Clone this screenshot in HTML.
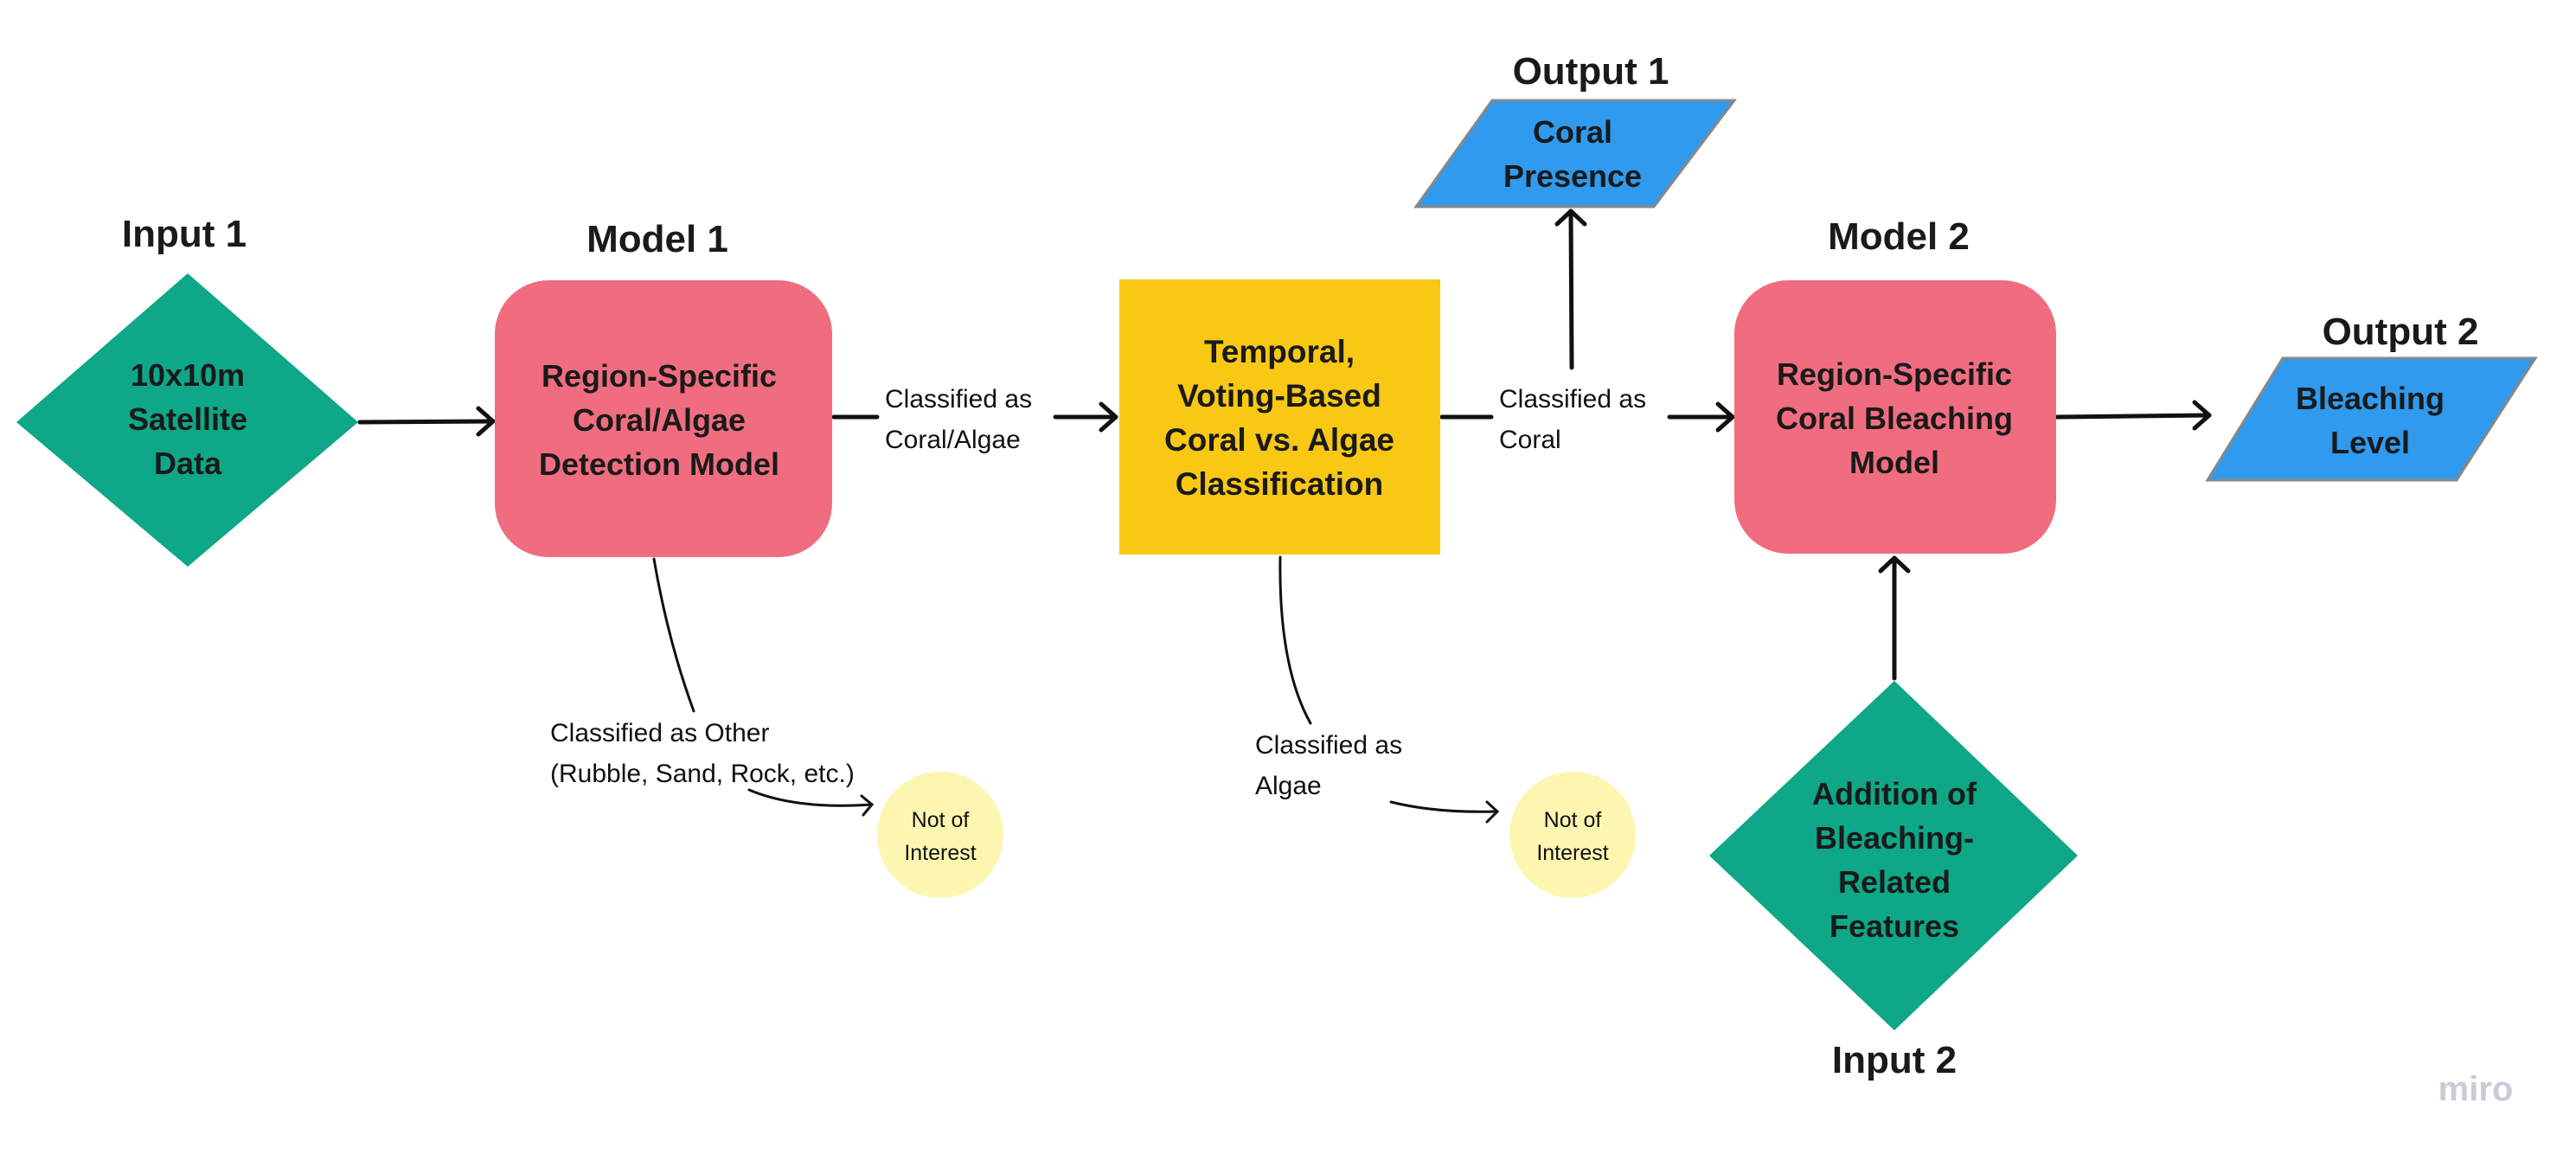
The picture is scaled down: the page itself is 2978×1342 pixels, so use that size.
<!DOCTYPE html>
<html><head><meta charset="utf-8"><style>
html,body{margin:0;padding:0;background:#fff;}
svg{display:block;}
.t{font-family:"Liberation Sans",sans-serif;font-weight:bold;fill:#1a1a1a;text-anchor:middle;}
.l{font-family:"Liberation Sans",sans-serif;fill:#111;font-size:30px;}
</style></head><body>
<svg width="2978" height="1342" viewBox="0 0 2978 1342" xmlns="http://www.w3.org/2000/svg">
<g fill="none" stroke="#111" stroke-width="5" stroke-linecap="round" stroke-linejoin="round">
<path d="M416 488 L570 487"/><path d="M553 472 L570 487 L553 502"/>
<path d="M964 482 L1014 482"/>
<path d="M1220 482 L1290 482"/><path d="M1273 467 L1290 482 L1273 497"/>
<path d="M1667 482 L1724 482"/>
<path d="M1930 482 L2003 482"/><path d="M1986 467 L2003 482 L1986 497"/>
<path d="M1817 425 L1816 244"/><path d="M1800 259 L1816 244 L1832 259"/>
<path d="M2378 482 L2554 480"/><path d="M2537 465 L2554 480 L2537 495"/>
<path d="M2190 784 L2190 645"/><path d="M2174 660 L2190 645 L2206 660"/>
</g>
<g fill="none" stroke="#111" stroke-width="3" stroke-linecap="round">
<path d="M756 646 Q772 740 802 822"/>
<path d="M866 913 Q920 936 1008 930"/><path d="M996 920 L1008 930 L998 942"/>
<path d="M1480 644 Q1478 770 1515 836"/>
<path d="M1608 927 Q1660 940 1730 938"/><path d="M1719 927 L1731 938 L1719 950"/>
</g>
<polygon points="217,316 414,488 217,655 19,488" fill="#0ea787"/>
<rect x="572" y="324" width="390" height="320" rx="62" fill="#f06d7f"/>
<rect x="1294" y="323" width="371" height="318" fill="#f8c814"/>
<rect x="2005" y="324" width="372" height="316" rx="62" fill="#f06d7f"/>
<polygon points="2190,787 2402,989 2190,1191 1976,989" fill="#0ea787"/>
<polygon points="1725,116 2005,116 1912,239 1637,239" fill="#2f9aee" stroke="#888" stroke-width="3"/>
<polygon points="2639,414 2931,414 2840,555 2552,555" fill="#2f9aee" stroke="#888" stroke-width="3"/>
<circle cx="1087" cy="965" r="73" fill="#fdf6b1"/>
<circle cx="1818" cy="965" r="73" fill="#fdf6b1"/>
<g class="t" font-size="44">
<text x="213" y="285">Input 1</text>
<text x="760" y="291">Model 1</text>
<text x="1839" y="97">Output 1</text>
<text x="2195" y="288">Model 2</text>
<text x="2775" y="398">Output 2</text>
<text x="2190" y="1240">Input 2</text>
</g>
<g class="t" font-size="36">
<text x="217" y="446">10x10m</text><text x="217" y="497">Satellite</text><text x="217" y="548">Data</text>
<text x="762" y="447">Region-Specific</text><text x="762" y="498">Coral/Algae</text><text x="762" y="549">Detection Model</text>
<text x="1479" y="419" font-size="37">Temporal,</text><text x="1479" y="470" font-size="37">Voting-Based</text><text x="1479" y="521" font-size="37">Coral vs. Algae</text><text x="1479" y="572" font-size="37">Classification</text>
<text x="2190" y="445">Region-Specific</text><text x="2190" y="496">Coral Bleaching</text><text x="2190" y="547">Model</text>
<text x="2190" y="930">Addition of</text><text x="2190" y="981">Bleaching-</text><text x="2190" y="1032">Related</text><text x="2190" y="1083">Features</text>
<text x="1818" y="165">Coral</text><text x="1818" y="216">Presence</text>
<text x="2740" y="473">Bleaching</text><text x="2740" y="524">Level</text>
</g>
<g class="l">
<text x="1023" y="471">Classified as</text><text x="1023" y="518">Coral/Algae</text>
<text x="1733" y="471">Classified as</text><text x="1733" y="518">Coral</text>
<text x="636" y="857">Classified as Other</text><text x="636" y="904">(Rubble, Sand, Rock, etc.)</text>
<text x="1451" y="871">Classified as</text><text x="1451" y="918">Algae</text>
</g>
<g class="l" style="font-size:25px">
<text x="1087" y="956" text-anchor="middle">Not of</text><text x="1087" y="994" text-anchor="middle">Interest</text>
<text x="1818" y="956" text-anchor="middle">Not of</text><text x="1818" y="994" text-anchor="middle">Interest</text>
</g>
<text x="2862" y="1272" font-family="Liberation Sans,sans-serif" font-weight="bold" font-size="40" fill="#c9cbd6" text-anchor="middle">miro</text>
</svg>
</body></html>
